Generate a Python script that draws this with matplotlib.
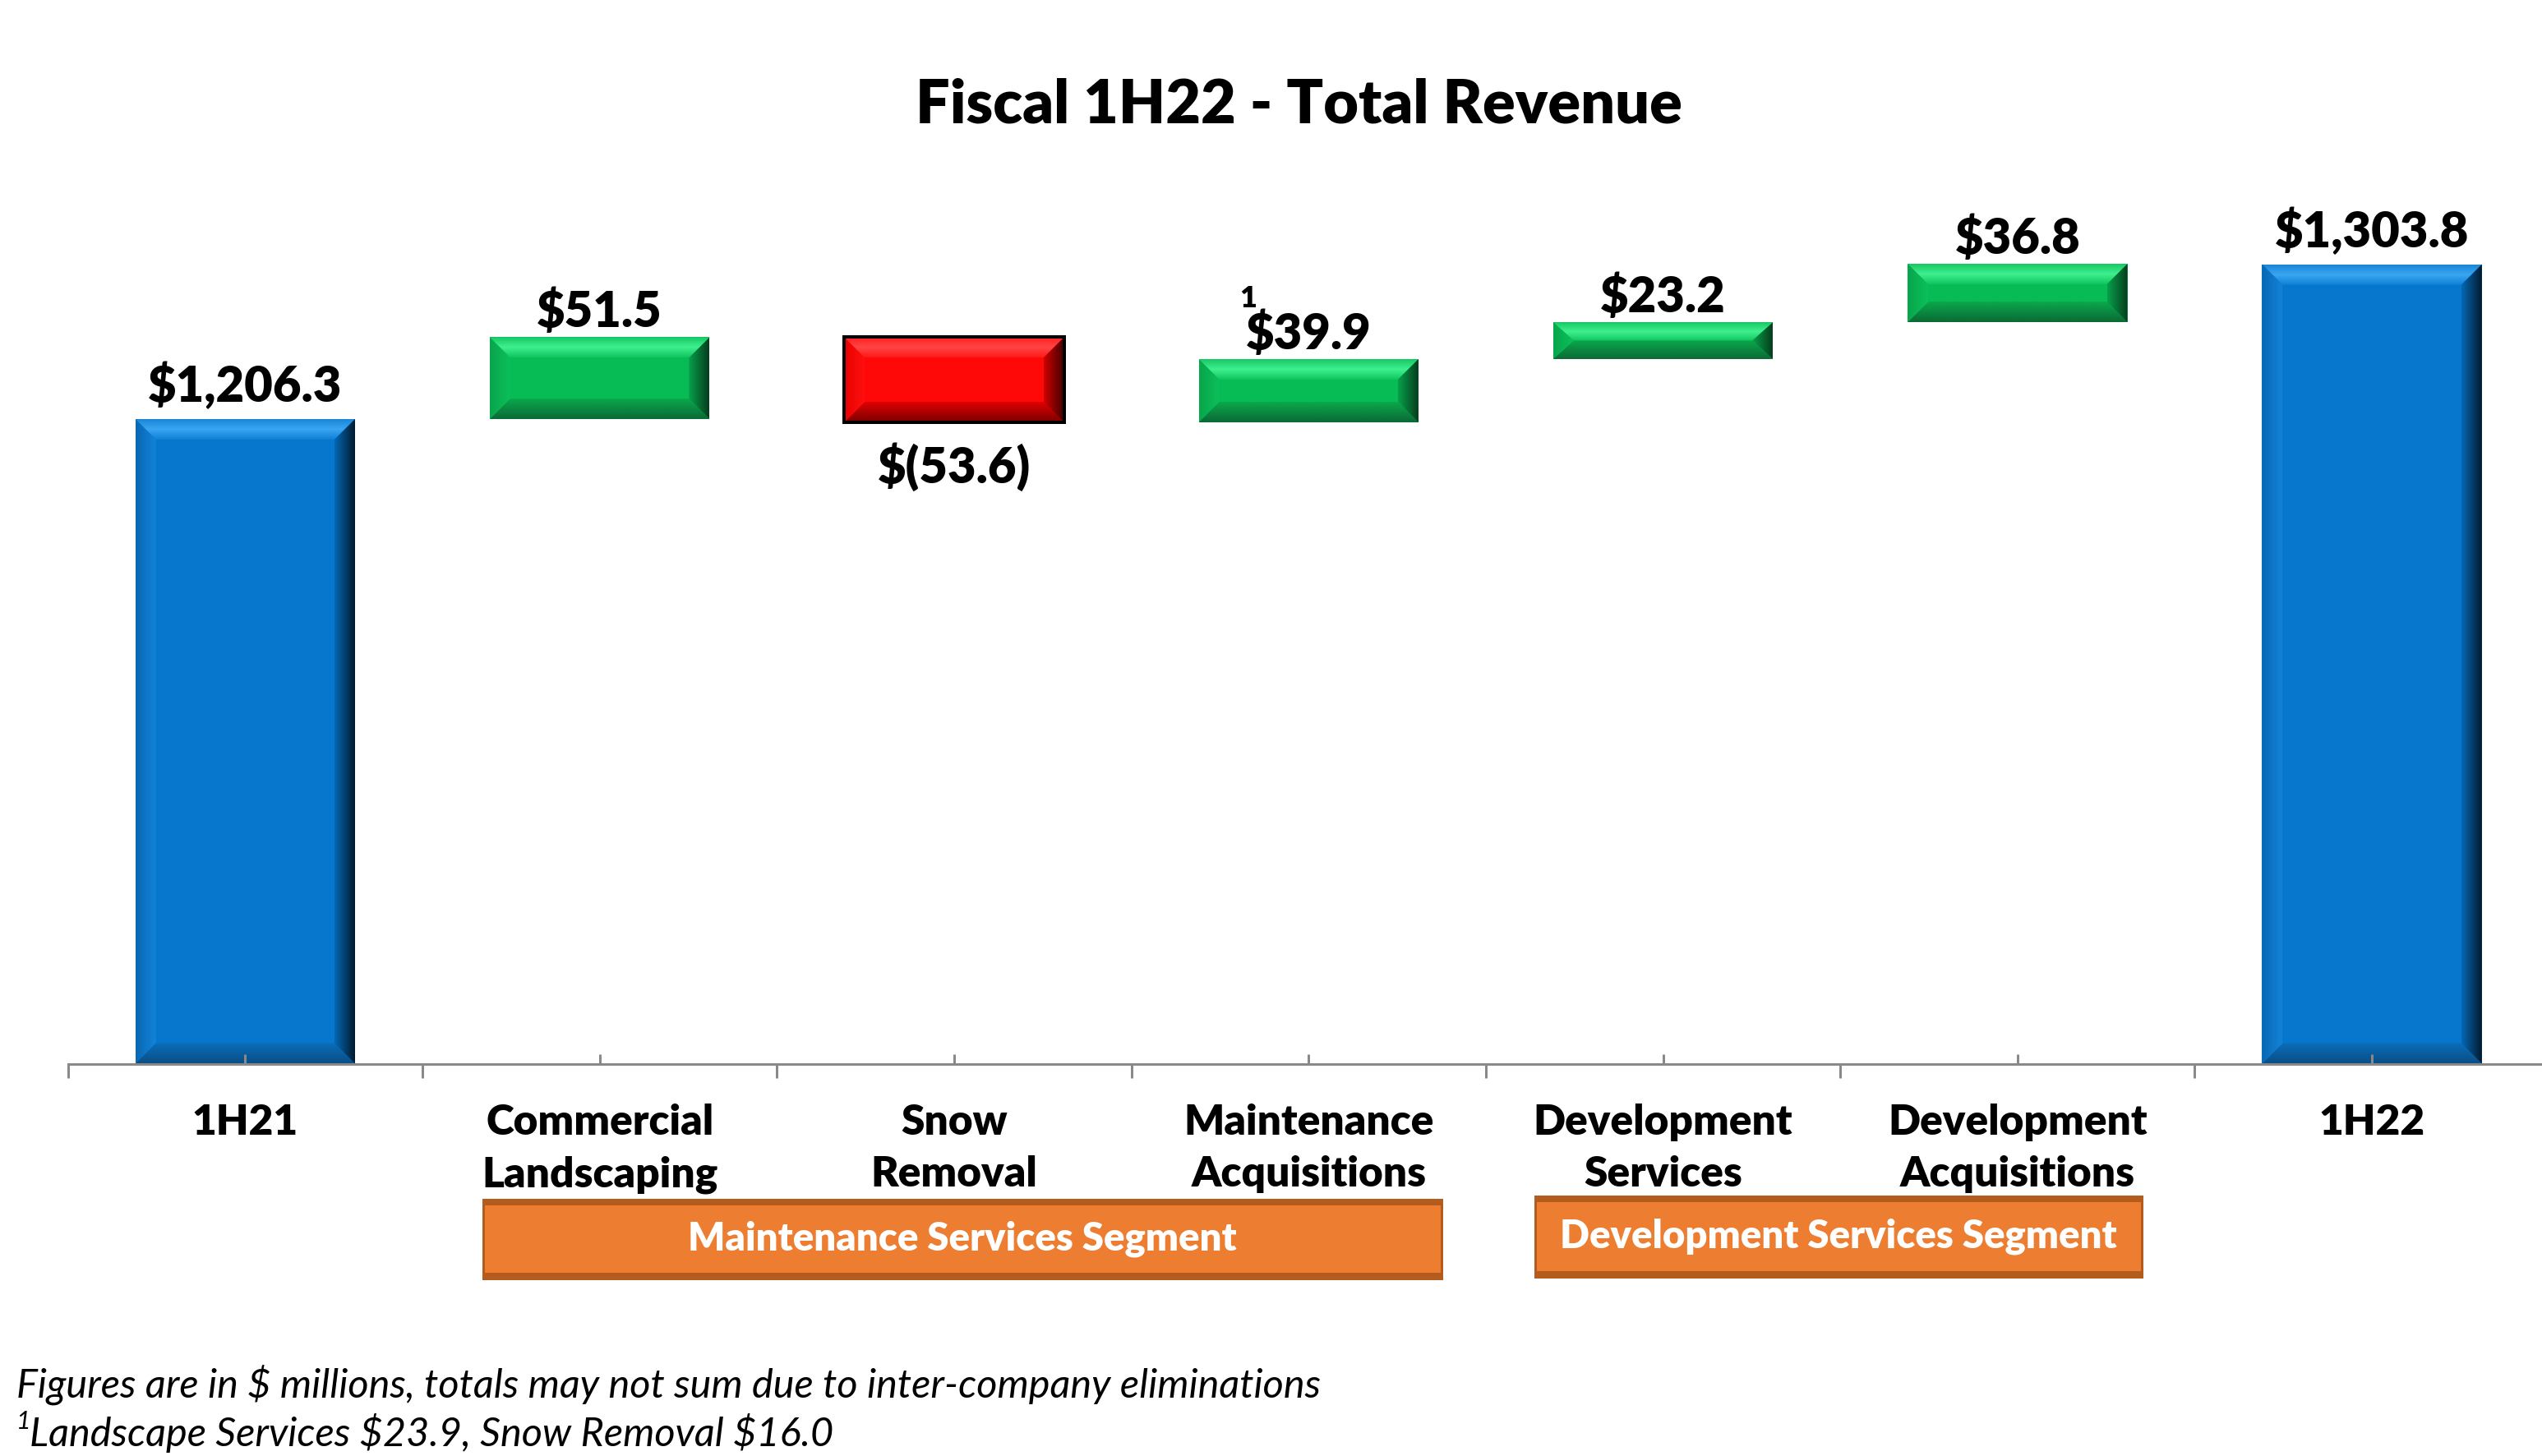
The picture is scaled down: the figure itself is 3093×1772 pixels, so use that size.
import matplotlib
matplotlib.use("Agg")
import matplotlib.pyplot as plt
import numpy as np
from matplotlib.colors import to_rgb
from matplotlib.patches import Polygon, Rectangle

plt.rcParams['font.family'] = ['Lato', 'DejaVu Sans']

# --- data -------------------------------------------------------------
categories = ['1H21', 'Commercial\nLandscaping', 'Snow\nRemoval', 'Maintenance\nAcquisitions',
              'Development\nServices', 'Development\nAcquisitions', '1H22']
start_total = 1206.3
end_total = 1303.8
changes = [51.5, -53.6, 39.9, 23.2, 36.8]
value_labels = ['$1,206.3', '$51.5', '$(53.6)', '$39.9', '$23.2', '$36.8', '$1,303.8']
segment_names = ['Maintenance Services Segment', 'Development Services Segment']
footnotes = ['Figures are in $ millions, totals may not sum due to inter-company eliminations',
             'Landscape Services $23.9, Snow Removal $16.0']

# --- layout -----------------------------------------------------------
W, H = 3093, 1772
DPI = 100
Y_MIN, Y_MAX = 800, 1400
AX_LEFT_PX, AX_BOTTOM_PX = 82.7, 1294.5
CAT_PX = 431.3
PX_PER_UNIT = 1.931
ax_w_px = CAT_PX * len(categories)
ax_h_px = (Y_MAX - Y_MIN) * PX_PER_UNIT
PT = 72.0 / DPI  # points per pixel
BOLD = 'heavy'

STYLES = {
    'total': dict(face='#0677CC', top=['#0E80D6', '#3AA6F2', '#1A86D8'],
                  bottom=['#0B4F86', '#0A6DBA'], left=['#0868B3', '#1283D9'],
                  right=['#0568B4', '#021A2E']),
    'up': dict(face='#07BB55', top=['#10C55F', '#3EF08E', '#19C865'],
               bottom=['#0A6A35', '#0AA84C'], left=['#09A54B', '#0BC05A'],
               right=['#08A04A', '#053D1E']),
    'down': dict(face='#FF0808', top=['#FF1A1A', '#FF4545', '#FF2020'],
                 bottom=['#7A0000', '#E00000'], left=['#E80000', '#FF1010'],
                 right=['#D00000', '#400000']),
}


def grad_fill(ax, verts, extent, stops, orient):
    """Fill polygon with a linear gradient; stops run from low to high coordinate."""
    n = 64
    t = np.linspace(0, 1, n)
    cols = np.array([to_rgb(c) for c in stops])
    pos = np.linspace(0, 1, len(stops))
    rgb = np.stack([np.interp(t, pos, cols[:, k]) for k in range(3)], axis=-1)
    arr = rgb[:, None, :] if orient == 'v' else rgb[None, :, :]
    poly = Polygon(verts, closed=True, facecolor='none', edgecolor='none')
    ax.add_patch(poly)
    im = ax.imshow(arr, extent=extent, origin='lower', aspect='auto',
                   interpolation='bilinear', zorder=1.5)
    im.set_clip_path(poly)


fig = plt.figure(figsize=(W / DPI, H / DPI), dpi=DPI)
ax = fig.add_axes([AX_LEFT_PX / W, (H - AX_BOTTOM_PX) / H, ax_w_px / W, ax_h_px / H])

# waterfall geometry
cum = start_total + np.cumsum(changes)
prev = np.concatenate([[start_total], cum[:-1]])
bottoms = [Y_MIN] + list(np.minimum(prev, cum)) + [Y_MIN]
heights = [start_total - Y_MIN] + list(np.abs(changes)) + [end_total - Y_MIN]
kinds = ['total'] + ['up' if c > 0 else 'down' for c in changes] + ['total']
x = np.arange(len(categories))

bars = ax.bar(x, heights, bottom=bottoms, width=0.62,
              color=[STYLES[k]['face'] for k in kinds], zorder=1)

BEVEL = 25  # px
for rect, kind in zip(bars.patches, kinds):
    st = STYLES[kind]
    x0, y0 = rect.get_x(), rect.get_y()
    x1, y1 = x0 + rect.get_width(), y0 + rect.get_height()
    dx = min(BEVEL / CAT_PX, rect.get_width() / 2)
    dy = min(BEVEL / PX_PER_UNIT, rect.get_height() / 2)
    grad_fill(ax, [(x0, y1), (x1, y1), (x1 - dx, y1 - dy), (x0 + dx, y1 - dy)],
              (x0, x1, y1 - dy, y1), st['top'], 'v')
    grad_fill(ax, [(x0, y0), (x1, y0), (x1 - dx, y0 + dy), (x0 + dx, y0 + dy)],
              (x0, x1, y0, y0 + dy), st['bottom'], 'v')
    grad_fill(ax, [(x0, y0), (x0 + dx, y0 + dy), (x0 + dx, y1 - dy), (x0, y1)],
              (x0, x0 + dx, y0, y1), st['left'], 'h')
    grad_fill(ax, [(x1, y0), (x1 - dx, y0 + dy), (x1 - dx, y1 - dy), (x1, y1)],
              (x1 - dx, x1, y0, y1), st['right'], 'h')
    if kind == 'down':
        ax.add_patch(Rectangle((x0, y0), x1 - x0, y1 - y0, facecolor='none',
                               edgecolor='black', linewidth=4 * PT, zorder=1.8))

# value labels
for rect, kind, lab in zip(bars.patches, kinds, value_labels):
    cx = rect.get_x() + rect.get_width() / 2
    if kind == 'down':
        ax.annotate(lab, (cx, rect.get_y()), xytext=(0, -74), textcoords='offset pixels',
                    ha='center', va='baseline', fontsize=43, fontweight=BOLD,
                    annotation_clip=False, parse_math=False)
    else:
        off = 21 if kind == 'total' else 12
        ax.annotate(lab, (cx, rect.get_y() + rect.get_height()), xytext=(0, off),
                    textcoords='offset pixels', ha='center', va='baseline',
                    fontsize=43, fontweight=BOLD, annotation_clip=False, parse_math=False)

# footnote marker on maintenance acquisitions
r3 = bars.patches[3]
ax.annotate('1', (x[3], r3.get_y() + r3.get_height()), xytext=(-74, 73),
            textcoords='offset pixels', ha='center', va='center', fontsize=26,
            fontweight=BOLD, annotation_clip=False)

# axes styling
ax.set_xlim(-0.5, len(categories) - 0.5)
ax.set_ylim(Y_MIN, Y_MAX)
for s in ['left', 'right', 'top']:
    ax.spines[s].set_visible(False)
ax.spines['bottom'].set_color('#898989')
ax.spines['bottom'].set_linewidth(3 * PT)
ax.set_yticks([])
ax.set_xticks(np.arange(len(categories) + 1) - 0.5)
ax.set_xticklabels([])
ax.tick_params(axis='x', which='major', direction='out', length=17 * PT,
               width=3 * PT, color='#898989')
ax.set_xticks(x, minor=True)
ax.set_xticklabels(categories, minor=True, fontsize=37, fontweight=BOLD,
                   linespacing=1.45)
ax.tick_params(axis='x', which='minor', direction='in', length=12 * PT,
               width=3 * PT, color='#898989', pad=35)

# title
fig.text(1580 / W, 1 - 128 / H, 'Fiscal 1H22 - Total Revenue', ha='center', va='center',
         fontsize=53, fontweight=BOLD)

# segment boxes
boxes = [(588, 1460, 1754, 1556), (1868, 1456, 2606, 1554)]
for (bx0, by0, bx1, by1), name in zip(boxes, segment_names):
    fig.add_artist(Rectangle((bx0 / W, 1 - by1 / H), (bx1 - bx0) / W, (by1 - by0) / H,
                             transform=fig.transFigure, facecolor='#ED7D31',
                             edgecolor='#B35C1E', linewidth=3 * PT))
    for yy in (by0, by1 - 7):
        fig.add_artist(Rectangle((bx0 / W, 1 - (yy + 7) / H), (bx1 - bx0) / W, 7 / H,
                                 transform=fig.transFigure, facecolor='#B35C1E',
                                 edgecolor='none'))
    fig.text((bx0 + bx1) / 2 / W, 1 - (by0 + by1) / 2 / H, name, ha='center', va='center',
             color='white', fontsize=34, fontweight=BOLD)

# footnotes
fig.text(20 / W, 1 - 1685 / H, footnotes[0], ha='left', va='center', fontsize=35,
         style='italic', parse_math=False)
fig.text(20 / W, 1 - 1730 / H, '1', ha='left', va='center', fontsize=22, style='italic')
fig.text(36 / W, 1 - 1744 / H, footnotes[1], ha='left', va='center', fontsize=35,
         style='italic', parse_math=False)

fig.savefig('out.png', dpi=DPI)
